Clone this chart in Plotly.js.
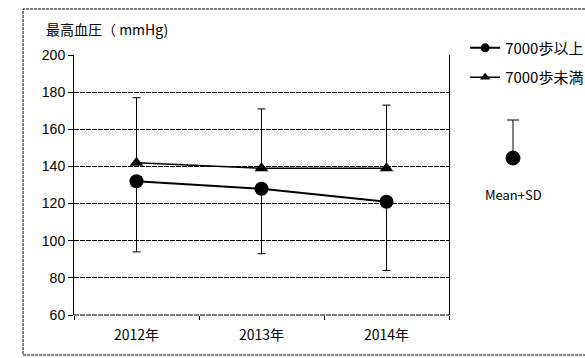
<!DOCTYPE html>
<html>
<head>
<meta charset="utf-8">
<script src="https://cdn.plot.ly/plotly-3.0.1.min.js"></script>
<style>html,body{margin:0;padding:0;background:#fff;}#chart{width:585px;height:358px;}</style>
</head>
<body>
<div id="chart"></div>
<script>
var categories = ["2012年", "2013年", "2014年"];
var seriesNames = ["7000歩以上", "7000歩未満"];
var meanAbove = [132, 128, 121];
var sdAbove = [38, 35, 37];
var meanBelow = [142, 139, 139];
var sdBelow = [35, 32, 34];
var zeros = [0, 0, 0];
var yTicks = [60, 80, 100, 120, 140, 160, 180, 200];

var fontFam = "'Liberation Sans', 'Noto Sans CJK JP', sans-serif";
var jpFam = "'Noto Sans CJK JP', sans-serif";

var traces = [
  {
    x: categories, y: meanAbove, name: seriesNames[0], type: "scatter", mode: "lines+markers",
    showlegend: false,
    line: {color: "#000", width: 2},
    marker: {symbol: "circle", size: 14, color: "#000"},
    error_y: {type: "data", symmetric: false, array: zeros, arrayminus: sdAbove, color: "#000", thickness: 1, width: 4}
  },
  {
    x: categories, y: meanBelow, name: seriesNames[1], type: "scatter", mode: "lines+markers",
    showlegend: false,
    line: {color: "#000", width: 1.5},
    marker: {symbol: "triangle-up", size: 12, color: "#000"},
    error_y: {type: "data", symmetric: false, array: sdBelow, arrayminus: zeros, color: "#000", thickness: 1, width: 4}
  },
  {
    x: [null], y: [null], name: seriesNames[0], type: "scatter", mode: "lines+markers", legendgroup: "a",
    line: {color: "#000", width: 2}, marker: {symbol: "circle", size: 9, color: "#000"}
  },
  {
    x: [null], y: [null], name: seriesNames[1], type: "scatter", mode: "lines+markers", legendgroup: "b",
    line: {color: "#000", width: 1.5}, marker: {symbol: "triangle-up", size: 9, color: "#000"}
  }
];

var layout = {
  width: 585, height: 358,
  margin: {l: 74, r: 136, t: 55, b: 43, autoexpand: false},
  paper_bgcolor: "#fff", plot_bgcolor: "#fff",
  font: {family: fontFam, size: 12, color: "#000"},
  title: {text: "最高血圧（ mmHg)", x: 46/585, xanchor: "left", xref: "container", y: 1 - 30/358, yanchor: "middle", yref: "container",
          font: {family: jpFam, size: 14, color: "#000"}},
  showlegend: true,
  legend: {x: 1.043, xanchor: "left", y: 1.09, yanchor: "top", traceorder: "grouped", tracegroupgap: 7,
           font: {family: jpFam, size: 15, color: "#000"}, bgcolor: "rgba(0,0,0,0)"},
  xaxis: {
    type: "category", range: [-0.5, 2.5], showgrid: false, showline: false, zeroline: false,
    tickson: "boundaries", ticks: "outside", ticklen: 4, tickcolor: "#000",
    ticklabelstandoff: 10,
    tickfont: {family: jpFam, size: 14, color: "#000"}
  },
  yaxis: {
    range: [60, 200], tickvals: yTicks, showgrid: true, gridcolor: "#000", griddash: "5px,1px", gridwidth: 1,
    showline: true, mirror: true, linecolor: "#000", linewidth: 1, zeroline: false,
    ticks: "outside", ticklen: 5, tickcolor: "#000",
    tickfont: {family: fontFam, size: 14, color: "#000"}
  },
  shapes: [
    {type: "line", xref: "paper", yref: "paper", x0: 0, x1: 1, y0: 0, y1: 0, line: {color: "#000", width: 1, dash: "5px,1px"}},
    {type: "rect", xref: "paper", yref: "paper", x0: (23-74)/375, x1: (595-74)/375, y0: (315-355)/260, y1: (315-9)/260,
     line: {color: "#000", width: 1, dash: "3px,1px"}},
    {type: "line", xref: "paper", yref: "paper", x0: (513-74)/375, x1: (513-74)/375, y0: (315-158)/260, y1: (315-120)/260, line: {color: "#000", width: 1}},
    {type: "line", xref: "paper", yref: "paper", x0: (507-74)/375, x1: (519-74)/375, y0: (315-120)/260, y1: (315-120)/260, line: {color: "#000", width: 1}},
    {type: "circle", xref: "paper", yref: "paper", x0: (506-74)/375, x1: (520-74)/375, y0: (315-165)/260, y1: (315-151)/260,
     fillcolor: "#000", line: {color: "#000", width: 1}}
  ],
  annotations: [
    {text: "Mean+SD", xref: "paper", yref: "paper", x: (513-74)/375, y: (315-194)/260, xanchor: "center", yanchor: "middle",
     showarrow: false, font: {family: jpFam, size: 13, color: "#000"}}
  ]
};

Plotly.newPlot("chart", traces, layout, {displayModeBar: false, staticPlot: true});
</script>
</body>
</html>
